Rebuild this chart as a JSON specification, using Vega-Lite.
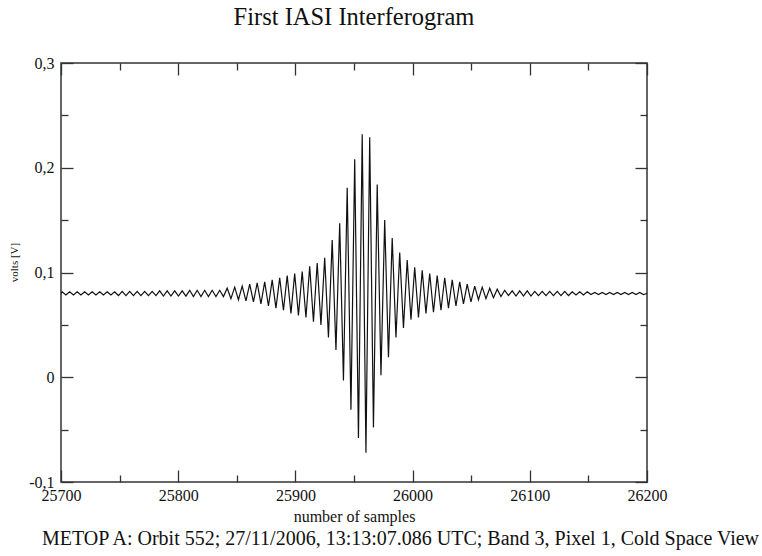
{
  "$schema": "https://vega.github.io/schema/vega-lite/v6.json",
  "width": 586,
  "height": 419,
  "autosize": "none",
  "padding": {"left": 61, "top": 63, "right": 115, "bottom": 74},
  "background": "white",
  "config": {
    "view": {"stroke": "#333", "strokeWidth": 1.5},
    "font": "Liberation Serif"
  },
  "title": {
    "text": "First IASI Interferogram",
    "font": "Liberation Serif",
    "fontSize": 24.5,
    "fontWeight": "normal",
    "color": "#111",
    "anchor": "middle",
    "offset": 25
  },
  "data": {
    "values": [
      {"sample": 25700, "volts": 0.08},
      {"sample": 25701.0, "volts": 0.0815},
      {"sample": 25704.2, "volts": 0.0785},
      {"sample": 25707.4, "volts": 0.0815},
      {"sample": 25710.6, "volts": 0.0785},
      {"sample": 25713.8, "volts": 0.0815},
      {"sample": 25717.0, "volts": 0.0785},
      {"sample": 25720.2, "volts": 0.0815},
      {"sample": 25723.4, "volts": 0.0785},
      {"sample": 25726.6, "volts": 0.0815},
      {"sample": 25729.8, "volts": 0.0785},
      {"sample": 25733.0, "volts": 0.0815},
      {"sample": 25736.2, "volts": 0.0785},
      {"sample": 25739.4, "volts": 0.0815},
      {"sample": 25742.6, "volts": 0.0785},
      {"sample": 25745.8, "volts": 0.0815},
      {"sample": 25749.0, "volts": 0.078},
      {"sample": 25752.2, "volts": 0.082},
      {"sample": 25755.4, "volts": 0.078},
      {"sample": 25758.6, "volts": 0.082},
      {"sample": 25761.8, "volts": 0.078},
      {"sample": 25765.0, "volts": 0.082},
      {"sample": 25768.2, "volts": 0.078},
      {"sample": 25771.4, "volts": 0.082},
      {"sample": 25774.6, "volts": 0.078},
      {"sample": 25777.8, "volts": 0.082},
      {"sample": 25781.0, "volts": 0.078},
      {"sample": 25784.2, "volts": 0.0825},
      {"sample": 25787.4, "volts": 0.0775},
      {"sample": 25790.6, "volts": 0.0825},
      {"sample": 25793.8, "volts": 0.0775},
      {"sample": 25797.0, "volts": 0.0825},
      {"sample": 25800.2, "volts": 0.0775},
      {"sample": 25803.4, "volts": 0.0825},
      {"sample": 25806.6, "volts": 0.0775},
      {"sample": 25809.8, "volts": 0.083},
      {"sample": 25813.0, "volts": 0.077},
      {"sample": 25816.2, "volts": 0.083},
      {"sample": 25819.4, "volts": 0.077},
      {"sample": 25822.6, "volts": 0.083},
      {"sample": 25825.8, "volts": 0.077},
      {"sample": 25829.0, "volts": 0.083},
      {"sample": 25832.2, "volts": 0.077},
      {"sample": 25835.4, "volts": 0.083},
      {"sample": 25838.6, "volts": 0.077},
      {"sample": 25841.8, "volts": 0.085},
      {"sample": 25845.0, "volts": 0.075},
      {"sample": 25848.2, "volts": 0.086},
      {"sample": 25851.4, "volts": 0.074},
      {"sample": 25854.6, "volts": 0.087},
      {"sample": 25857.8, "volts": 0.073},
      {"sample": 25861.0, "volts": 0.089},
      {"sample": 25864.2, "volts": 0.072},
      {"sample": 25867.4, "volts": 0.09},
      {"sample": 25870.6, "volts": 0.07},
      {"sample": 25873.8, "volts": 0.091},
      {"sample": 25877.0, "volts": 0.068},
      {"sample": 25880.2, "volts": 0.093},
      {"sample": 25883.4, "volts": 0.066},
      {"sample": 25886.6, "volts": 0.095},
      {"sample": 25889.8, "volts": 0.064},
      {"sample": 25893.0, "volts": 0.097},
      {"sample": 25896.2, "volts": 0.061},
      {"sample": 25899.4, "volts": 0.099},
      {"sample": 25902.6, "volts": 0.059},
      {"sample": 25905.8, "volts": 0.101},
      {"sample": 25909.0, "volts": 0.057},
      {"sample": 25912.2, "volts": 0.106},
      {"sample": 25915.4, "volts": 0.053},
      {"sample": 25918.6, "volts": 0.109},
      {"sample": 25921.8, "volts": 0.05},
      {"sample": 25925.0, "volts": 0.114},
      {"sample": 25928.2, "volts": 0.038},
      {"sample": 25931.4, "volts": 0.131},
      {"sample": 25934.6, "volts": 0.026},
      {"sample": 25937.8, "volts": 0.147},
      {"sample": 25941.0, "volts": -0.003},
      {"sample": 25944.2, "volts": 0.181},
      {"sample": 25947.4, "volts": -0.031},
      {"sample": 25950.6, "volts": 0.208},
      {"sample": 25953.8, "volts": -0.058},
      {"sample": 25957.0, "volts": 0.232},
      {"sample": 25960.2, "volts": -0.072},
      {"sample": 25963.4, "volts": 0.229},
      {"sample": 25966.6, "volts": -0.048},
      {"sample": 25969.8, "volts": 0.184},
      {"sample": 25973.0, "volts": 0.002},
      {"sample": 25976.2, "volts": 0.15},
      {"sample": 25979.4, "volts": 0.019},
      {"sample": 25982.6, "volts": 0.133},
      {"sample": 25985.8, "volts": 0.038},
      {"sample": 25989.0, "volts": 0.119},
      {"sample": 25992.2, "volts": 0.047},
      {"sample": 25995.4, "volts": 0.112},
      {"sample": 25998.6, "volts": 0.055},
      {"sample": 26001.8, "volts": 0.105},
      {"sample": 26005.0, "volts": 0.057},
      {"sample": 26008.2, "volts": 0.102},
      {"sample": 26011.4, "volts": 0.061},
      {"sample": 26014.6, "volts": 0.099},
      {"sample": 26017.8, "volts": 0.062},
      {"sample": 26021.0, "volts": 0.097},
      {"sample": 26024.2, "volts": 0.064},
      {"sample": 26027.4, "volts": 0.095},
      {"sample": 26030.6, "volts": 0.066},
      {"sample": 26033.8, "volts": 0.093},
      {"sample": 26037.0, "volts": 0.068},
      {"sample": 26040.2, "volts": 0.091},
      {"sample": 26043.4, "volts": 0.07},
      {"sample": 26046.6, "volts": 0.089},
      {"sample": 26049.8, "volts": 0.072},
      {"sample": 26053.0, "volts": 0.087},
      {"sample": 26056.2, "volts": 0.074},
      {"sample": 26059.4, "volts": 0.086},
      {"sample": 26062.6, "volts": 0.075},
      {"sample": 26065.8, "volts": 0.085},
      {"sample": 26069.0, "volts": 0.076},
      {"sample": 26072.2, "volts": 0.084},
      {"sample": 26075.4, "volts": 0.077},
      {"sample": 26078.6, "volts": 0.083},
      {"sample": 26081.8, "volts": 0.078},
      {"sample": 26085.0, "volts": 0.0825},
      {"sample": 26088.2, "volts": 0.0775},
      {"sample": 26091.4, "volts": 0.0825},
      {"sample": 26094.6, "volts": 0.0775},
      {"sample": 26097.8, "volts": 0.0825},
      {"sample": 26101.0, "volts": 0.0775},
      {"sample": 26104.2, "volts": 0.082},
      {"sample": 26107.4, "volts": 0.078},
      {"sample": 26110.6, "volts": 0.082},
      {"sample": 26113.8, "volts": 0.078},
      {"sample": 26117.0, "volts": 0.082},
      {"sample": 26120.2, "volts": 0.078},
      {"sample": 26123.4, "volts": 0.082},
      {"sample": 26126.6, "volts": 0.078},
      {"sample": 26129.8, "volts": 0.082},
      {"sample": 26133.0, "volts": 0.078},
      {"sample": 26136.2, "volts": 0.0815},
      {"sample": 26139.4, "volts": 0.0785},
      {"sample": 26142.6, "volts": 0.0815},
      {"sample": 26145.8, "volts": 0.0785},
      {"sample": 26149.0, "volts": 0.0815},
      {"sample": 26152.2, "volts": 0.079},
      {"sample": 26155.4, "volts": 0.081},
      {"sample": 26158.6, "volts": 0.079},
      {"sample": 26161.8, "volts": 0.081},
      {"sample": 26165.0, "volts": 0.079},
      {"sample": 26168.2, "volts": 0.081},
      {"sample": 26171.4, "volts": 0.079},
      {"sample": 26174.6, "volts": 0.081},
      {"sample": 26177.8, "volts": 0.079},
      {"sample": 26181.0, "volts": 0.081},
      {"sample": 26184.2, "volts": 0.079},
      {"sample": 26187.4, "volts": 0.081},
      {"sample": 26190.6, "volts": 0.079},
      {"sample": 26193.8, "volts": 0.081},
      {"sample": 26197.0, "volts": 0.079},
      {"sample": 26200.0, "volts": 0.08}
    ]
  },
  "layer": [
    {
      "mark": {"type": "line", "color": "#111", "strokeWidth": 1.2, "clip": true},
      "encoding": {
        "x": {
          "field": "sample", "type": "quantitative",
          "scale": {"domain": [25700, 26200], "nice": false, "zero": false},
          "axis": {
            "orient": "bottom", "values": [25700, 25800, 25900, 26000, 26100, 26200],
            "format": "d", "tickSize": -12, "tickColor": "#333", "tickWidth": 1.3,
            "domain": false, "grid": false, "labelFlush": false, "labelOverlap": false,
            "labelFont": "Liberation Serif", "labelFontSize": 16, "labelColor": "#111",
            "labelPadding": 17,
            "title": "number of samples", "titleFont": "Liberation Serif", "titleFontSize": 16,
            "titleFontWeight": "normal", "titleColor": "#111", "titlePadding": 5
          }
        },
        "y": {
          "field": "volts", "type": "quantitative",
          "scale": {"domain": [-0.1, 0.3], "nice": false, "zero": false},
          "axis": {
            "orient": "left", "values": [-0.1, 0, 0.1, 0.2, 0.3],
            "labelExpr": "datum.value == 0 ? '0' : (datum.value < 0 ? '-' : '') + '0,' + round(abs(datum.value) * 10)",
            "tickSize": -12, "tickColor": "#333", "tickWidth": 1.3,
            "domain": false, "grid": false, "labelFlush": false, "labelOverlap": false,
            "labelFont": "Liberation Serif", "labelFontSize": 16, "labelColor": "#111",
            "labelPadding": 19,
            "title": "volts [V]", "titleFont": "Liberation Serif", "titleFontSize": 11,
            "titleFontWeight": "normal", "titleColor": "#111", "titlePadding": 9, "titleY": 199
          }
        }
      }
    },
    {
      "mark": {"type": "line", "opacity": 0},
      "encoding": {
        "x": {
          "field": "sample", "type": "quantitative",
          "axis": {
            "orient": "top", "values": [25700, 25800, 25900, 26000, 26100, 26200],
            "tickSize": -12, "tickColor": "#333", "tickWidth": 1.3,
            "domain": false, "grid": false, "labels": false, "title": null
          }
        },
        "y": {
          "field": "volts", "type": "quantitative",
          "axis": {
            "orient": "right", "values": [-0.1, 0, 0.1, 0.2, 0.3],
            "tickSize": -12, "tickColor": "#333", "tickWidth": 1.3,
            "domain": false, "grid": false, "labels": false, "title": null
          }
        }
      }
    },
    {
      "mark": {"type": "line", "opacity": 0},
      "encoding": {
        "x": {
          "field": "sample", "type": "quantitative",
          "axis": {
            "orient": "bottom", "values": [25750, 25850, 25950, 26050, 26150],
            "tickSize": -7, "tickColor": "#333", "tickWidth": 1.3,
            "domain": false, "grid": false, "labels": false,
            "title": "METOP A: Orbit 552; 27/11/2006, 13:13:07.086 UTC; Band 3, Pixel 1, Cold Space View",
            "titleFont": "Liberation Serif", "titleFontSize": 20, "titleFontWeight": "normal",
            "titleColor": "#111", "titlePadding": 46, "titleX": 339, "titleAlign": "center"
          }
        },
        "y": {
          "field": "volts", "type": "quantitative",
          "axis": {
            "orient": "left", "values": [-0.05, 0.05, 0.15, 0.25],
            "tickSize": -7, "tickColor": "#333", "tickWidth": 1.3,
            "domain": false, "grid": false, "labels": false, "title": null
          }
        }
      }
    },
    {
      "mark": {"type": "line", "opacity": 0},
      "encoding": {
        "x": {
          "field": "sample", "type": "quantitative",
          "axis": {
            "orient": "top", "values": [25750, 25850, 25950, 26050, 26150],
            "tickSize": -7, "tickColor": "#333", "tickWidth": 1.3,
            "domain": false, "grid": false, "labels": false, "title": null
          }
        },
        "y": {
          "field": "volts", "type": "quantitative",
          "axis": {
            "orient": "right", "values": [-0.05, 0.05, 0.15, 0.25],
            "tickSize": -7, "tickColor": "#333", "tickWidth": 1.3,
            "domain": false, "grid": false, "labels": false, "title": null
          }
        }
      }
    }
  ],
  "resolve": {"axis": {"x": "independent", "y": "independent"}}
}
